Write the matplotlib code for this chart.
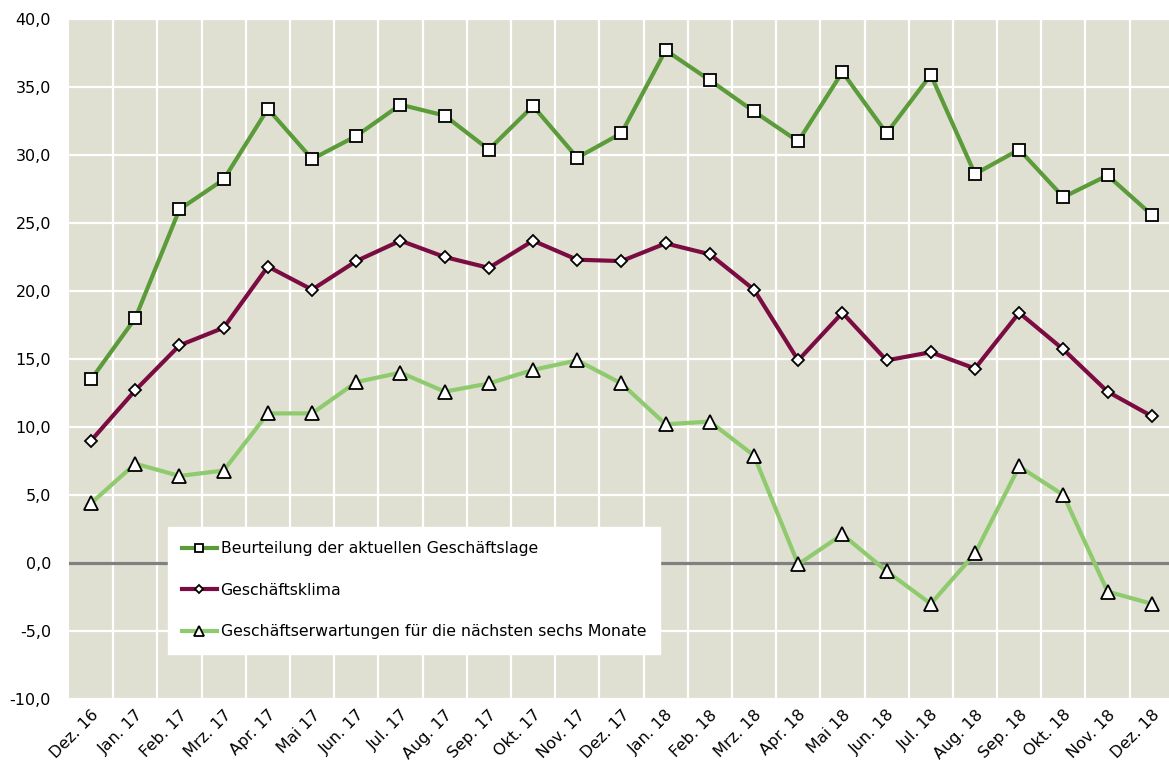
import matplotlib
matplotlib.use("Agg")
import matplotlib.pyplot as plt
from matplotlib.ticker import FixedLocator, FuncFormatter

categories = ["Dez. 16", "Jan. 17", "Feb. 17", "Mrz. 17", "Apr. 17", "Mai 17", "Jun. 17",
              "Jul. 17", "Aug. 17", "Sep. 17", "Okt. 17", "Nov. 17", "Dez. 17", "Jan. 18",
              "Feb. 18", "Mrz. 18", "Apr. 18", "Mai 18", "Jun. 18", "Jul. 18", "Aug. 18",
              "Sep. 18", "Okt. 18", "Nov. 18", "Dez. 18"]

lage = [13.5, 18.0, 26.0, 28.2, 33.4, 29.7, 31.4, 33.7, 32.9, 30.4, 33.6, 29.8, 31.6, 37.7,
        35.5, 33.2, 31.0, 36.1, 31.6, 35.9, 28.6, 30.4, 26.9, 28.5, 25.6]
klima = [9.0, 12.7, 16.0, 17.3, 21.8, 20.1, 22.2, 23.7, 22.5, 21.7, 23.7, 22.3, 22.2, 23.5,
         22.7, 20.1, 14.9, 18.4, 14.9, 15.5, 14.3, 18.4, 15.7, 12.6, 10.8]
erwartung = [4.4, 7.3, 6.4, 6.8, 11.0, 11.0, 13.3, 14.0, 12.6, 13.2, 14.2, 14.9, 13.2, 10.2,
             10.4, 7.9, -0.1, 2.1, -0.6, -3.0, 0.7, 7.1, 5.0, -2.1, -3.0]

labels = ["Beurteilung der aktuellen Geschäftslage", "Geschäftsklima",
          "Geschäftserwartungen für die nächsten sechs Monate"]

W, H = 1169, 767
fig = plt.figure(figsize=(W / 100, H / 100), dpi=100)
ax = fig.add_axes([69 / W, (H - 699) / H, (1169 - 69) / W, (699 - 19) / H])
ax.set_facecolor("#DFE0D2")
for s in ax.spines.values():
    s.set_visible(False)

x = list(range(len(categories)))
ax.set_xlim(-0.5, 24.39)
ax.set_ylim(-10, 40)

ax.set_yticks(range(-10, 41, 5))
ax.yaxis.set_major_formatter(FuncFormatter(lambda v, p: f"{v:.1f}".replace(".", ",")))
ax.set_xticks(x)
ax.set_xticklabels(categories, rotation=45, ha="right", rotation_mode="anchor")
ax.xaxis.set_minor_locator(FixedLocator([i + 0.5 for i in range(24)]))
ax.tick_params(axis="both", which="both", length=0, labelsize=11.5, colors="#000000")
ax.tick_params(axis="x", pad=6)
ax.tick_params(axis="y", pad=13)
ax.grid(False)
ax.grid(True, axis="y", which="major", color="white", linewidth=1.6)
ax.grid(True, axis="x", which="minor", color="white", linewidth=1.6)
ax.set_axisbelow(True)
ax.axhline(0, color="#808080", linewidth=2.3, zorder=1.5)

mk = dict(markerfacecolor="white", markeredgecolor="black", markeredgewidth=1.3)
l1, = ax.plot(x, lage, color="#5B9B3A", linewidth=3, marker="s", markersize=9, label=labels[0], **mk)
l2, = ax.plot(x, klima, color="#7B0C42", linewidth=3, marker="D", markersize=6.5, label=labels[1], **mk)
l3, = ax.plot(x, erwartung, color="#8FCB6E", linewidth=3, marker="^", markersize=10, label=labels[2], **mk)

leg = fig.legend(handles=[l1, l2, l3], loc="upper left",
                 bbox_to_anchor=(168 / W, (H - 527) / H), fontsize=11.3,
                 frameon=True, fancybox=False, handlelength=2.2, handletextpad=0.25,
                 labelspacing=1.7, borderpad=0.9, borderaxespad=0,
                 markerscale=0.7)
leg.get_frame().set_facecolor("white")
leg.get_frame().set_edgecolor("white")
leg.get_frame().set_alpha(1)

fig.savefig("out.png", dpi=100)
